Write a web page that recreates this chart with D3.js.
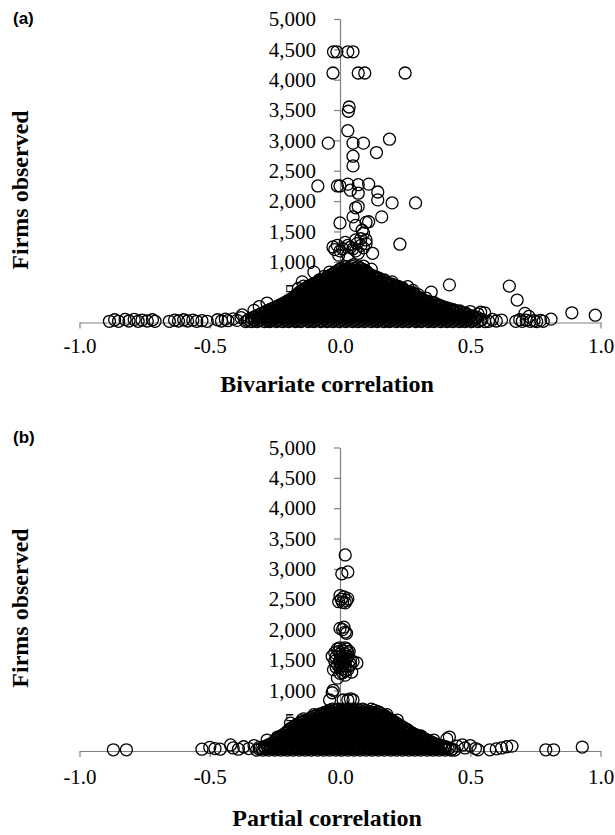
<!DOCTYPE html>
<html>
<head>
<meta charset="utf-8">
<script src="https://cdn.jsdelivr.net/npm/d3@7"></script>
<style>
  body { margin: 0; background: #fff; }
  svg { display: block; }
</style>
</head>
<body>
<div id="chart"></div>
<script>
const WIDTH = 615;
const HEIGHT = 835;
const X_LEFT = 79.5;
const X_RIGHT = 600.5;
const DOT_R = 6;
const SERIF = "'Liberation Serif', 'Times New Roman', serif";
const AXIS_GREY = "#808080";

// tick values
const xTicks = [-1.0, -0.5, 0.0, 0.5, 1.0];
const yTicks = [500, 1000, 1500, 2000, 2500, 3000, 3500, 4000, 4500, 5000];

// ---- panel (a): bivariate correlation, [r, firms] ----
const bivariateHigh = [
  [-0.025,4460],[-0.012,4460],[0.03,4460],[0.05,4460],
  [-0.027,4110],[0.07,4110],[0.095,4110],[0.25,4110],
  [0.035,3550],[0.032,3480],[0.03,3160],
  [-0.045,2955],[0.05,2955],[0.09,2955],[0.19,3020],[0.14,2800],[0.05,2740],[0.05,2580],
  [-0.085,2250],[-0.01,2250],[0.0,2250],[0.03,2280],[0.07,2270],[0.11,2280],[0.04,2180],
  [0.07,2130],[0.145,2150],[0.145,2020],[0.2,1970],[0.29,1970],
  [0.06,1890],[0.07,1910],[0.16,1740],[0.05,1740],[0.0,1640],[0.1,1650],[0.11,1660],
  [0.06,1600],[0.085,1520],[0.09,1470],[0.1,1360],[0.06,1360],[0.08,1380],[0.23,1290],
  [-0.027,1245],[-0.01,1270],[0.01,1215],[0.03,1270],[0.05,1215],[0.065,1300],[0.08,1270],
  [-0.005,1110],[0.03,1110],[0.07,1140],[0.125,1140],[0.0,1180],[0.04,1240],[0.09,1230],
  [0.1,1300],[-0.02,1200],[0.02,1320],[0.06,1180]
];

const bivariateEdge = [
  [-0.375,125],[-0.33,200],[-0.31,260],[-0.28,320],[-0.23,250],[-0.2,260],[-0.18,300],
  [-0.14,370],[-0.13,450],[-0.12,520],[-0.16,560],[-0.14,600],[-0.145,670],[-0.1,620],
  [-0.08,700],[-0.06,760],[-0.1,830],[-0.04,830],[0.0,880],[0.02,920],[0.05,950],[0.09,930],
  [0.12,880],[0.14,730],[0.17,700],[0.18,640],[0.2,670],[0.22,600],[0.24,560],[0.26,590],
  [0.28,530],[0.3,460],[0.33,400],[0.36,330],[0.38,280],[0.4,240],[0.43,200],[0.46,190],
  [0.48,160],[0.5,180],[0.53,140],[0.35,500],[0.42,620]
];

const bivariateTails = [
  [-0.885,20],[-0.865,45],[-0.85,20],[-0.825,50],[-0.81,25],[-0.79,50],[-0.775,20],[-0.76,40],
  [-0.74,25],[-0.72,45],[-0.71,20],[-0.655,20],[-0.635,40],[-0.62,25],[-0.6,45],[-0.585,25],
  [-0.565,40],[-0.55,20],[-0.53,30],[-0.51,20],[-0.47,45],[-0.455,25],[-0.44,55],[-0.43,30],
  [-0.41,60],[-0.395,35],[-0.38,80],
  [0.57,20],[0.585,50],[0.6,25],[0.62,40],[0.54,170],[0.555,160],[0.675,20],[0.69,45],
  [0.7,20],[0.71,150],[0.715,40],[0.725,100],[0.73,20],[0.745,30],[0.755,15],[0.77,35],
  [0.78,20],[0.81,55],[0.65,600],[0.68,370],[0.89,160],[0.98,120]
];

// dense base of the funnel, one row of r values per firms level
const bivariateCore = [
  [15, [-0.362,-0.34,-0.318,-0.29,-0.27,-0.244,-0.22,-0.197,-0.171,-0.15,-0.122,-0.1,-0.074,-0.05,-0.027,-0.003,0.022,0.048,0.07,0.094,0.12,0.143,0.168,0.19,0.216,0.24,0.263,0.29,0.312,0.338,0.36,0.386,0.41,0.433,0.458,0.48,0.505,0.53,0.556]],
  [32, [-0.356,-0.33,-0.31,-0.282,-0.262,-0.239,-0.213,-0.19,-0.168,-0.145,-0.118,-0.094,-0.071,-0.046,-0.02,0.004,0.028,0.053,0.077,0.1,0.126,0.148,0.174,0.196,0.222,0.246,0.27,0.295,0.318,0.343,0.367,0.392,0.415,0.44,0.465,0.488,0.512,0.538]],
  [50, [-0.35,-0.326,-0.302,-0.278,-0.255,-0.232,-0.208,-0.185,-0.16,-0.136,-0.112,-0.088,-0.062,-0.038,-0.014,0.01,0.034,0.058,0.083,0.107,0.131,0.155,0.18,0.204,0.228,0.252,0.276,0.3,0.325,0.349,0.373,0.397,0.421,0.446,0.47,0.494,0.52,0.545]],
  [70, [-0.34,-0.315,-0.292,-0.268,-0.245,-0.22,-0.198,-0.175,-0.151,-0.127,-0.104,-0.08,-0.056,-0.03,-0.008,0.017,0.04,0.064,0.089,0.112,0.137,0.16,0.185,0.208,0.232,0.257,0.28,0.304,0.328,0.352,0.377,0.4,0.424,0.448,0.472,0.497,0.52]],
  [90, [-0.33,-0.307,-0.283,-0.26,-0.236,-0.212,-0.19,-0.165,-0.142,-0.118,-0.095,-0.07,-0.047,-0.023,0.0,0.024,0.047,0.071,0.095,0.118,0.142,0.166,0.19,0.213,0.237,0.26,0.284,0.308,0.332,0.355,0.379,0.402,0.426,0.45,0.474,0.5,0.525]],
  [110, [-0.32,-0.296,-0.272,-0.25,-0.226,-0.202,-0.18,-0.156,-0.132,-0.108,-0.085,-0.062,-0.037,-0.014,0.01,0.033,0.057,0.08,0.103,0.127,0.15,0.174,0.197,0.221,0.245,0.268,0.292,0.315,0.34,0.362,0.387,0.41,0.434,0.458,0.482,0.505]],
  [130, [-0.31,-0.286,-0.262,-0.24,-0.216,-0.193,-0.17,-0.146,-0.123,-0.1,-0.076,-0.053,-0.03,-0.006,0.017,0.04,0.064,0.088,0.11,0.134,0.158,0.181,0.204,0.228,0.252,0.275,0.298,0.322,0.345,0.369,0.392,0.416,0.44,0.465,0.49]],
  [150, [-0.3,-0.276,-0.252,-0.229,-0.205,-0.182,-0.16,-0.136,-0.113,-0.09,-0.066,-0.043,-0.02,0.004,0.027,0.05,0.074,0.097,0.12,0.144,0.167,0.19,0.214,0.237,0.26,0.284,0.307,0.33,0.355,0.378,0.4,0.425,0.45,0.475]],
  [170, [-0.29,-0.266,-0.243,-0.22,-0.196,-0.172,-0.15,-0.126,-0.103,-0.08,-0.056,-0.033,-0.01,0.014,0.037,0.06,0.084,0.107,0.13,0.154,0.177,0.2,0.224,0.247,0.27,0.294,0.317,0.34,0.364,0.388,0.41,0.435,0.46]],
  [190, [-0.28,-0.255,-0.232,-0.21,-0.186,-0.162,-0.14,-0.116,-0.093,-0.07,-0.046,-0.023,0.0,0.024,0.047,0.07,0.094,0.117,0.14,0.164,0.187,0.21,0.234,0.257,0.28,0.304,0.327,0.35,0.374,0.398,0.422,0.447]],
  [210, [-0.27,-0.245,-0.222,-0.2,-0.176,-0.153,-0.13,-0.106,-0.083,-0.06,-0.036,-0.013,0.01,0.034,0.057,0.08,0.104,0.127,0.15,0.174,0.197,0.22,0.244,0.267,0.29,0.314,0.337,0.36,0.384,0.41,0.435]],
  [230, [-0.26,-0.236,-0.212,-0.19,-0.166,-0.143,-0.12,-0.096,-0.073,-0.05,-0.026,-0.003,0.02,0.044,0.067,0.09,0.114,0.137,0.16,0.184,0.207,0.23,0.254,0.277,0.3,0.324,0.347,0.37,0.395,0.42]],
  [250, [-0.25,-0.226,-0.203,-0.18,-0.156,-0.133,-0.11,-0.087,-0.063,-0.04,-0.017,0.006,0.03,0.053,0.076,0.1,0.123,0.146,0.17,0.193,0.216,0.24,0.263,0.286,0.31,0.333,0.356,0.38,0.405]],
  [270, [-0.24,-0.216,-0.193,-0.17,-0.146,-0.123,-0.1,-0.077,-0.053,-0.03,-0.007,0.016,0.04,0.063,0.086,0.11,0.133,0.156,0.18,0.203,0.226,0.25,0.273,0.296,0.32,0.343,0.366,0.39]],
  [290, [-0.23,-0.206,-0.183,-0.16,-0.137,-0.113,-0.09,-0.067,-0.044,-0.02,0.003,0.026,0.05,0.073,0.096,0.12,0.143,0.166,0.19,0.213,0.236,0.26,0.283,0.306,0.33,0.353,0.378]],
  [310, [-0.22,-0.196,-0.173,-0.15,-0.127,-0.103,-0.08,-0.057,-0.034,-0.01,0.013,0.036,0.06,0.083,0.106,0.13,0.153,0.176,0.2,0.223,0.246,0.27,0.293,0.316,0.34,0.365]],
  [330, [-0.21,-0.187,-0.164,-0.14,-0.117,-0.094,-0.07,-0.047,-0.024,0.0,0.023,0.046,0.07,0.093,0.116,0.14,0.163,0.186,0.21,0.233,0.256,0.28,0.303,0.326,0.35]],
  [350, [-0.203,-0.18,-0.156,-0.133,-0.11,-0.086,-0.063,-0.04,-0.016,0.007,0.03,0.054,0.077,0.1,0.124,0.147,0.17,0.194,0.217,0.24,0.264,0.287,0.31,0.335]],
  [370, [-0.195,-0.172,-0.148,-0.125,-0.102,-0.078,-0.055,-0.032,-0.008,0.015,0.038,0.062,0.085,0.108,0.132,0.155,0.178,0.2,0.225,0.248,0.272,0.295,0.32]],
  [390, [-0.188,-0.164,-0.141,-0.118,-0.094,-0.071,-0.048,-0.024,-0.001,0.022,0.046,0.069,0.092,0.116,0.139,0.162,0.186,0.209,0.232,0.256,0.28,0.31]],
  [410, [-0.18,-0.157,-0.134,-0.11,-0.087,-0.064,-0.04,-0.017,0.006,0.03,0.053,0.076,0.1,0.123,0.146,0.17,0.193,0.216,0.24,0.263,0.286,0.305]],
  [430, [-0.175,-0.152,-0.128,-0.105,-0.082,-0.058,-0.035,-0.012,0.012,0.035,0.058,0.082,0.105,0.128,0.152,0.175,0.198,0.222,0.245,0.27,0.295]],
  [450, [-0.17,-0.146,-0.123,-0.1,-0.076,-0.053,-0.03,-0.006,0.017,0.04,0.064,0.087,0.11,0.134,0.157,0.18,0.204,0.227,0.25,0.275,0.29]],
  [470, [-0.163,-0.14,-0.117,-0.093,-0.07,-0.047,-0.023,0.0,0.023,0.047,0.07,0.093,0.117,0.14,0.163,0.187,0.21,0.233,0.257,0.285]],
  [490, [-0.158,-0.135,-0.112,-0.088,-0.065,-0.042,-0.018,0.005,0.028,0.052,0.075,0.098,0.122,0.145,0.168,0.192,0.215,0.238,0.262,0.28]],
  [510, [-0.15,-0.127,-0.104,-0.08,-0.057,-0.034,-0.01,0.013,0.036,0.06,0.083,0.106,0.13,0.153,0.176,0.2,0.223,0.246,0.265]],
  [530, [-0.145,-0.122,-0.099,-0.075,-0.052,-0.029,-0.005,0.018,0.041,0.065,0.088,0.111,0.135,0.158,0.181,0.205,0.228,0.25]],
  [550, [-0.138,-0.115,-0.091,-0.068,-0.045,-0.021,0.002,0.025,0.049,0.072,0.095,0.119,0.142,0.165,0.189,0.212,0.235]],
  [570, [-0.13,-0.107,-0.084,-0.06,-0.037,-0.014,0.01,0.033,0.056,0.08,0.103,0.126,0.15,0.173,0.196,0.22,0.24]],
  [590, [-0.122,-0.099,-0.075,-0.052,-0.029,-0.005,0.018,0.041,0.065,0.088,0.111,0.135,0.158,0.181,0.205,0.225]],
  [610, [-0.115,-0.092,-0.069,-0.045,-0.022,0.001,0.025,0.048,0.071,0.095,0.118,0.141,0.165,0.188,0.21]],
  [630, [-0.105,-0.082,-0.058,-0.035,-0.012,0.012,0.035,0.058,0.082,0.105,0.128,0.152,0.175,0.2]],
  [650, [-0.095,-0.072,-0.049,-0.025,-0.002,0.021,0.045,0.068,0.091,0.115,0.138,0.161,0.185]],
  [670, [-0.085,-0.062,-0.038,-0.015,0.008,0.032,0.055,0.078,0.102,0.125,0.148,0.175]],
  [690, [-0.075,-0.052,-0.029,-0.005,0.018,0.041,0.065,0.088,0.111,0.135,0.16]],
  [710, [-0.065,-0.042,-0.018,0.005,0.028,0.052,0.075,0.098,0.122,0.145]],
  [730, [-0.055,-0.032,-0.008,0.015,0.038,0.062,0.085,0.108,0.132,0.15]],
  [750, [-0.048,-0.025,-0.001,0.022,0.045,0.069,0.092,0.115,0.138]],
  [770, [-0.04,-0.016,0.007,0.03,0.054,0.077,0.1,0.125]],
  [790, [-0.032,-0.009,0.014,0.038,0.061,0.084,0.108]],
  [810, [-0.025,-0.002,0.021,0.045,0.068,0.091,0.11]],
  [830, [-0.018,0.005,0.028,0.052,0.075,0.098]],
  [850, [-0.01,0.013,0.037,0.06,0.083,0.1]],
  [870, [-0.002,0.021,0.045,0.068,0.09]],
  [890, [0.005,0.03,0.055,0.08]],
  [920, [0.02,0.05,0.07]]
];

// ---- panel (b): partial correlation, [r, firms] ----
const partialHigh = [
  [0.02,3230],[0.007,2920],[0.03,2950],
  [-0.005,2460],[0.005,2500],[0.015,2540],[0.025,2480],[0.01,2450],[0.03,2510],[0.0,2560],[0.02,2440],
  [0.0,2020],[0.01,2000],[0.02,1960],[0.015,2040],[0.025,1940],
  [-0.03,1560],[-0.02,1620],[-0.01,1680],[0.0,1700],[0.01,1650],[0.02,1600],[0.03,1560],
  [0.04,1500],[-0.02,1480],[-0.01,1420],[0.0,1380],[0.01,1460],[0.02,1400],[0.03,1340],
  [0.04,1430],[0.05,1470],[0.065,1450],[0.045,1300],[-0.01,1200],[0.0,1280],[0.02,1250],
  [0.01,1520],[-0.025,1340],[0.035,1640],[0.005,1560],
  [0.0,1600],[0.01,1580],[0.0,1500],[0.01,1350],[0.02,1700],[-0.005,1640],[0.015,1440],
  [0.025,1520],[0.03,1620],[0.0,1450],[-0.015,1550],[0.02,1320],[0.01,1290],[0.035,1400],
  [-0.015,1380],[0.025,1680],[0.005,1410],[0.015,1530],
  [-0.026,1000],[-0.04,840],[-0.03,960],[0.012,840],[0.03,840],[0.05,840],[0.04,860]
];

const partialEdge = [
  [-0.19,460],[-0.14,530],[-0.24,230],[-0.28,180],[0.22,510],[0.26,300],[0.31,250],
  [0.36,180],[0.41,200],[0.42,230],[0.47,100],[0.52,40],[-0.1,600],[0.18,600]
];

const partialTails = [
  [-0.87,20],[-0.82,20],[-0.53,30],[-0.5,60],[-0.48,40],[-0.46,30],[-0.42,100],[-0.41,50],
  [-0.39,30],[-0.37,70],[-0.35,40],[-0.33,90],[-0.31,60],
  [0.45,80],[0.48,50],[0.5,90],[0.53,20],[0.575,20],[0.6,35],[0.62,50],[0.64,70],[0.66,80],
  [0.79,20],[0.82,20],[0.93,65]
];

const partialCore = [
  [15, [-0.32,-0.296,-0.273,-0.25,-0.226,-0.203,-0.18,-0.156,-0.133,-0.11,-0.086,-0.063,-0.04,-0.016,0.007,0.03,0.054,0.077,0.1,0.124,0.147,0.17,0.194,0.217,0.24,0.264,0.287,0.31,0.334,0.357,0.38,0.404,0.427,0.44]],
  [32, [-0.31,-0.285,-0.262,-0.238,-0.215,-0.192,-0.168,-0.145,-0.122,-0.098,-0.075,-0.052,-0.028,-0.005,0.018,0.042,0.065,0.088,0.112,0.135,0.158,0.182,0.205,0.228,0.252,0.275,0.298,0.322,0.345,0.368,0.392,0.415,0.43]],
  [50, [-0.3,-0.277,-0.254,-0.23,-0.207,-0.184,-0.16,-0.137,-0.114,-0.09,-0.067,-0.044,-0.02,0.003,0.026,0.05,0.073,0.096,0.12,0.143,0.166,0.19,0.213,0.236,0.26,0.283,0.306,0.33,0.353,0.376,0.4,0.42]],
  [70, [-0.29,-0.266,-0.243,-0.22,-0.196,-0.173,-0.15,-0.126,-0.103,-0.08,-0.056,-0.033,-0.01,0.014,0.037,0.06,0.084,0.107,0.13,0.154,0.177,0.2,0.224,0.247,0.27,0.294,0.317,0.34,0.364,0.387,0.405]],
  [90, [-0.28,-0.257,-0.234,-0.21,-0.187,-0.164,-0.14,-0.117,-0.094,-0.07,-0.047,-0.024,0.0,0.023,0.046,0.07,0.093,0.116,0.14,0.163,0.186,0.21,0.233,0.256,0.28,0.303,0.326,0.35,0.373,0.39]],
  [110, [-0.27,-0.246,-0.222,-0.199,-0.176,-0.152,-0.129,-0.106,-0.082,-0.059,-0.036,-0.012,0.011,0.034,0.058,0.081,0.104,0.128,0.151,0.174,0.198,0.221,0.244,0.268,0.291,0.314,0.338,0.36,0.375]],
  [130, [-0.26,-0.237,-0.214,-0.19,-0.167,-0.144,-0.12,-0.097,-0.074,-0.05,-0.027,-0.004,0.02,0.043,0.066,0.09,0.113,0.136,0.16,0.183,0.206,0.23,0.253,0.276,0.3,0.323,0.346,0.36]],
  [150, [-0.255,-0.232,-0.208,-0.185,-0.162,-0.138,-0.115,-0.092,-0.068,-0.045,-0.022,0.002,0.025,0.048,0.072,0.095,0.118,0.142,0.165,0.188,0.212,0.235,0.258,0.282,0.305,0.328,0.35]],
  [170, [-0.25,-0.226,-0.203,-0.18,-0.156,-0.133,-0.11,-0.086,-0.063,-0.04,-0.016,0.007,0.03,0.054,0.077,0.1,0.124,0.147,0.17,0.194,0.217,0.24,0.264,0.287,0.31,0.34]],
  [190, [-0.245,-0.221,-0.198,-0.175,-0.151,-0.128,-0.105,-0.081,-0.058,-0.035,-0.011,0.012,0.035,0.059,0.082,0.105,0.129,0.152,0.175,0.199,0.222,0.245,0.269,0.292,0.315,0.33]],
  [210, [-0.24,-0.216,-0.193,-0.17,-0.146,-0.123,-0.1,-0.076,-0.053,-0.03,-0.006,0.017,0.04,0.064,0.087,0.11,0.134,0.157,0.18,0.204,0.227,0.25,0.274,0.297,0.32]],
  [230, [-0.232,-0.208,-0.185,-0.162,-0.138,-0.115,-0.092,-0.068,-0.045,-0.022,0.002,0.025,0.048,0.072,0.095,0.118,0.142,0.165,0.188,0.212,0.235,0.258,0.282,0.31]],
  [250, [-0.225,-0.202,-0.178,-0.155,-0.132,-0.108,-0.085,-0.062,-0.038,-0.015,0.008,0.032,0.055,0.078,0.102,0.125,0.148,0.172,0.195,0.218,0.242,0.265,0.288,0.3]],
  [270, [-0.218,-0.194,-0.171,-0.148,-0.124,-0.101,-0.078,-0.054,-0.031,-0.008,0.016,0.039,0.062,0.086,0.109,0.132,0.156,0.179,0.202,0.226,0.249,0.272,0.29]],
  [290, [-0.21,-0.187,-0.163,-0.14,-0.117,-0.093,-0.07,-0.047,-0.023,0.0,0.023,0.047,0.07,0.093,0.117,0.14,0.163,0.187,0.21,0.233,0.257,0.28]],
  [310, [-0.205,-0.182,-0.158,-0.135,-0.112,-0.088,-0.065,-0.042,-0.018,0.005,0.028,0.052,0.075,0.098,0.122,0.145,0.168,0.192,0.215,0.238,0.27]],
  [330, [-0.2,-0.176,-0.153,-0.13,-0.106,-0.083,-0.06,-0.036,-0.013,0.01,0.034,0.057,0.08,0.104,0.127,0.15,0.174,0.197,0.22,0.244,0.265]],
  [350, [-0.195,-0.171,-0.148,-0.125,-0.101,-0.078,-0.055,-0.031,-0.008,0.015,0.039,0.062,0.085,0.109,0.132,0.155,0.179,0.202,0.225,0.258]],
  [370, [-0.19,-0.166,-0.143,-0.12,-0.096,-0.073,-0.05,-0.026,-0.003,0.02,0.044,0.067,0.09,0.114,0.137,0.16,0.184,0.207,0.23,0.25]],
  [390, [-0.182,-0.16,-0.136,-0.113,-0.09,-0.066,-0.043,-0.02,0.004,0.027,0.05,0.074,0.097,0.12,0.144,0.167,0.19,0.214,0.242]],
  [410, [-0.175,-0.152,-0.128,-0.105,-0.082,-0.058,-0.035,-0.012,0.012,0.035,0.058,0.082,0.105,0.128,0.152,0.175,0.198,0.222,0.235]],
  [430, [-0.168,-0.145,-0.121,-0.098,-0.075,-0.051,-0.028,-0.005,0.019,0.042,0.065,0.089,0.112,0.135,0.159,0.182,0.205,0.228]],
  [450, [-0.16,-0.137,-0.113,-0.09,-0.067,-0.043,-0.02,0.003,0.027,0.05,0.073,0.097,0.12,0.143,0.167,0.19,0.21,0.22]],
  [470, [-0.15,-0.127,-0.103,-0.08,-0.057,-0.033,-0.01,0.013,0.037,0.06,0.083,0.107,0.13,0.153,0.177,0.212]],
  [490, [-0.14,-0.117,-0.093,-0.07,-0.047,-0.023,0.0,0.023,0.047,0.07,0.093,0.117,0.14,0.163,0.187,0.205]],
  [510, [-0.13,-0.107,-0.083,-0.06,-0.037,-0.013,0.01,0.033,0.057,0.08,0.103,0.127,0.15,0.173,0.198]],
  [530, [-0.12,-0.097,-0.073,-0.05,-0.027,-0.003,0.02,0.043,0.067,0.09,0.113,0.137,0.16,0.19]],
  [550, [-0.11,-0.087,-0.063,-0.04,-0.017,0.007,0.03,0.053,0.077,0.1,0.123,0.147,0.17,0.182]],
  [570, [-0.1,-0.077,-0.053,-0.03,-0.007,0.017,0.04,0.063,0.087,0.11,0.133,0.157,0.175]],
  [590, [-0.088,-0.065,-0.041,-0.018,0.005,0.029,0.052,0.075,0.099,0.122,0.145,0.168]],
  [610, [-0.075,-0.052,-0.028,-0.005,0.018,0.042,0.065,0.088,0.112,0.135,0.16]],
  [630, [-0.062,-0.039,-0.015,0.008,0.031,0.055,0.078,0.101,0.125,0.152]],
  [650, [-0.05,-0.027,-0.003,0.02,0.043,0.067,0.09,0.113,0.145]],
  [670, [-0.04,-0.016,0.007,0.03,0.054,0.077,0.1,0.132]],
  [690, [-0.03,-0.006,0.017,0.04,0.064,0.087,0.12]]
];

function flattenCore(core) {
  const out = [];
  core.forEach(row => row[1].forEach(r => out.push([r, row[0]])));
  return out;
}

const svg = d3.select("#chart")
  .append("svg")
  .attr("width", WIDTH)
  .attr("height", HEIGHT);

function styleAxis(g) {
  g.attr("font-family", SERIF)
   .attr("font-size", 21);
  g.selectAll("path, line")
   .attr("stroke", AXIS_GREY)
   .attr("stroke-width", 1.2);
  g.selectAll("text")
   .attr("fill", "#000")
   .attr("font-family", SERIF)
   .attr("font-size", 21)
   .style("font-family", SERIF)
   .style("font-size", "21px");
}

function drawPanel(p) {
  const xScale = d3.scaleLinear().domain([-1, 1]).range([X_LEFT, X_RIGHT]);
  const yScale = d3.scaleLinear().domain([0, 5000]).range([p.yBottom, p.yTop]);

  // x axis
  const xAxis = d3.axisBottom(xScale)
    .tickValues(xTicks)
    .tickFormat(d => d.toFixed(1))
    .tickSizeInner(6)
    .tickSizeOuter(0)
    .tickPadding(p.xPad);
  svg.append("g")
     .attr("transform", "translate(0," + yScale(0) + ")")
     .call(xAxis)
     .call(styleAxis);

  // y axis, crossing at r = 0
  const yAxis = d3.axisLeft(yScale)
    .tickValues(yTicks)
    .tickFormat(d3.format(","))
    .tickSizeInner(6)
    .tickSizeOuter(0)
    .tickPadding(18);
  svg.append("g")
     .attr("transform", "translate(" + xScale(0) + ",0)")
     .call(yAxis)
     .call(styleAxis);

  // points
  const data = p.core.concat(p.edge, p.tails, p.high);
  svg.append("g")
     .selectAll("circle")
     .data(data)
     .enter()
     .append("circle")
     .attr("cx", d => xScale(d[0]))
     .attr("cy", d => yScale(d[1]))
     .attr("r", DOT_R)
     .attr("fill", "none")
     .attr("stroke", "#000")
     .attr("stroke-width", 1.3);

  // panel letter
  svg.append("text")
     .attr("x", 13)
     .attr("y", p.letterY)
     .style("font-family", "'Liberation Sans', Arial, sans-serif")
     .style("font-weight", "bold")
     .style("font-size", "17px")
     .text(p.letter);

  // x axis title
  svg.append("text")
     .attr("x", 327)
     .attr("y", p.xTitleY)
     .style("text-anchor", "middle")
     .style("font-family", SERIF)
     .style("font-weight", "bold")
     .style("font-size", "24px")
     .text(p.xTitle);

  // y axis title
  svg.append("text")
     .attr("transform", "translate(28," + p.yTitleMid + ") rotate(-90)")
     .style("text-anchor", "middle")
     .style("font-family", SERIF)
     .style("font-weight", "bold")
     .style("font-size", "24px")
     .text("Firms observed");
}

drawPanel({
  letter: "(a)", letterY: 24,
  yTop: 19, yBottom: 322.5, xPad: 10,
  xTitle: "Bivariate correlation", xTitleY: 392, yTitleMid: 190,
  core: flattenCore(bivariateCore), edge: bivariateEdge, tails: bivariateTails, high: bivariateHigh
});

drawPanel({
  letter: "(b)", letterY: 443,
  yTop: 447.5, yBottom: 751, xPad: 12,
  xTitle: "Partial correlation", xTitleY: 826, yTitleMid: 608,
  core: flattenCore(partialCore), edge: partialEdge, tails: partialTails, high: partialHigh
});
</script>
</body>
</html>
